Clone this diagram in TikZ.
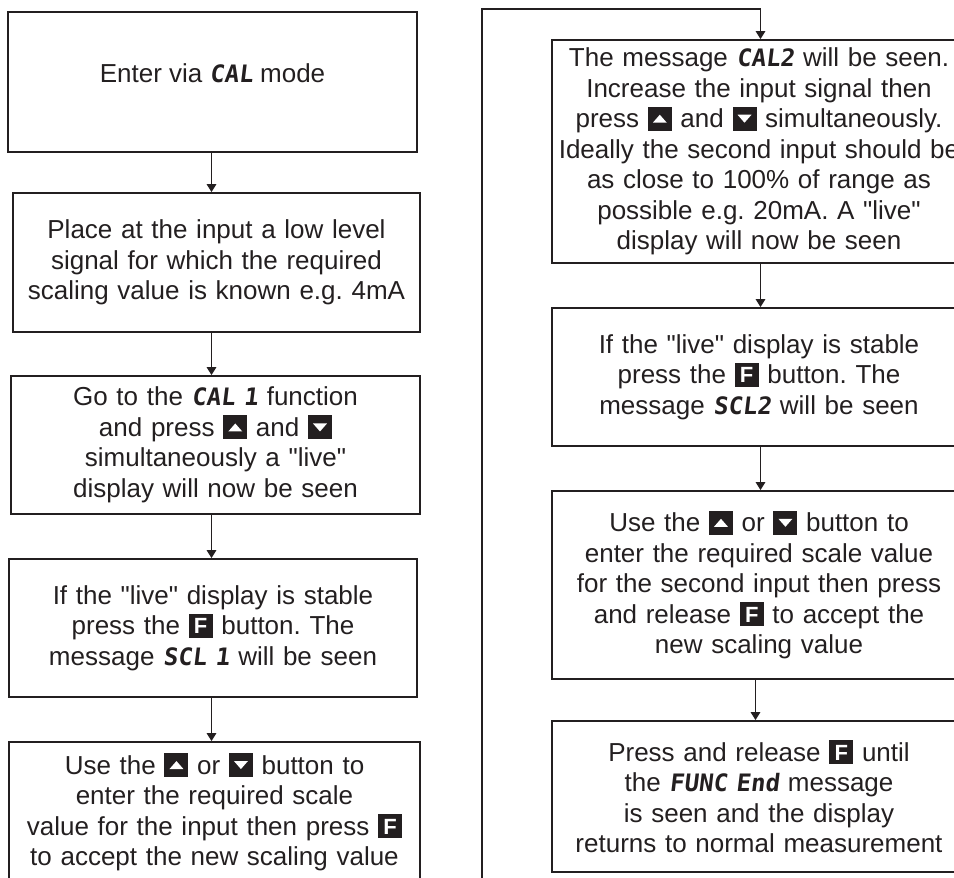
\documentclass[tikz,border=0pt]{standalone}
\usepackage{fontspec}
\setmainfont{Liberation Sans}[Ligatures=TeXOff]
\newfontfamily\segfont[FakeSlant=0.12]{DejaVu Sans Mono}
\usepackage{pict2e}
\usetikzlibrary{arrows.meta}
\definecolor{ink}{HTML}{231F20}
\frenchspacing
\newcommand\seg[1]{{\segfont\bfseries\fontsize{24}{30.5}\selectfont #1}}
\newcommand\keybox[2]{\raisebox{-3pt}{\setlength{\fboxsep}{0pt}\colorbox{ink}{\makebox[24pt][c]{\rule{0pt}{24pt}\raisebox{#1}{\color{white}#2}}}}}
\newcommand\kup{\keybox{8pt}{\setlength{\unitlength}{1pt}\begin{picture}(14,8)\polygon*(0,0)(14,0)(7,8)\end{picture}}}
\newcommand\kdown{\keybox{8pt}{\setlength{\unitlength}{1pt}\begin{picture}(14,8)\polygon*(0,8)(14,8)(7,0)\end{picture}}}
\newcommand\kF{\keybox{4pt}{\fontsize{22}{22}\selectfont\bfseries F}}
\begin{document}
\frenchspacing
\begin{tikzpicture}[x=1pt,y=-1pt,
  box/.style={draw=ink, line width=1.8pt, align=center, inner sep=0pt,
    font=\fontsize{26}{30.5}\selectfont\frenchspacing, text=ink},
  lbox/.style={box, text width=400pt},
  rbox/.style={box, text width=405pt, minimum width=414pt},
  arr/.style={draw=ink, line width=1.6pt, -{Triangle[length=8pt,width=9.5pt]}}]
\useasboundingbox (0,0) rectangle (954,878);
\clip (0,0) rectangle (954,878);

% left column
\node[box, minimum width=409pt, minimum height=140pt, text height=0pt, text depth=0pt] (b1) at (212.5,82) {Enter via \seg{CAL} mode};
\node[lbox, minimum width=407pt, minimum height=139pt] (b2) at (216.5,262.5)
  {Place at the input a low level\\signal for which the required\\scaling value is known e.g. 4mA};
\node[lbox, minimum width=409pt, minimum height=138pt] (b3) at (215.5,445)
  {Go to the \seg{CAL 1} function\\and press \kup{} and \kdown\\simultaneously a "live"\\display will now be seen};
\node[lbox, minimum width=408pt, minimum height=138pt] (b4) at (213,628)
  {If the "live" display is stable\\press the \kF{} button. The\\message \seg{SCL 1} will be seen};
\node[lbox, minimum width=411pt, minimum height=140pt] (b5) at (214.5,812)
  {Use the \kup{} or \kdown{} button to\\enter the required scale\\value for the input then press \kF\\to accept the new scaling value};

% right column
\node[rbox, minimum height=223pt] (r1) at (759,151.5)
  {The message \seg{CAL2} will be seen.\\Increase the input signal then\\press \kup{} and \kdown{} simultaneously.\\Ideally the second input should be\\as close to 100\% of range as\\possible e.g. 20mA. A "live"\\display will now be seen};
\node[rbox, minimum height=138pt] (r2) at (759,377)
  {If the "live" display is stable\\press the \kF{} button. The\\message \seg{SCL2} will be seen};
\node[rbox, minimum height=188pt] (r3) at (759,585)
  {Use the \kup{} or \kdown{} button to\\enter the required scale value\\for the second input then press\\and release \kF{} to accept the\\new scaling value};
\node[rbox, minimum height=151pt] (r4) at (759,796.5)
  {Press and release \kF{} until\\the \seg{FUNC End} message\\is seen and the display\\returns to normal measurement};

% connectors
\coordinate (lx) at (211.5,0);
\coordinate (rx) at (760.5,0);
\coordinate (rx2) at (755.5,0);
\coordinate (lb) at (482,900);
\coordinate (lt) at (482,9);
\draw[arr] (b1.south -| lx) -- (b2.north -| lx);
\draw[arr] (b2.south -| lx) -- (b3.north -| lx);
\draw[arr] (b3.south -| lx) -- (b4.north -| lx);
\draw[arr] (b4.south -| lx) -- (b5.north -| lx);
\draw[arr] (b5.south -| lx) |- (lb) -- (lt) -| (r1.north -| rx);
\draw[arr] (r1.south -| rx) -- (r2.north -| rx);
\draw[arr] (r2.south -| rx) -- (r3.north -| rx);
\draw[arr] (r3.south -| rx2) -- (r4.north -| rx2);
\end{tikzpicture}
\end{document}
